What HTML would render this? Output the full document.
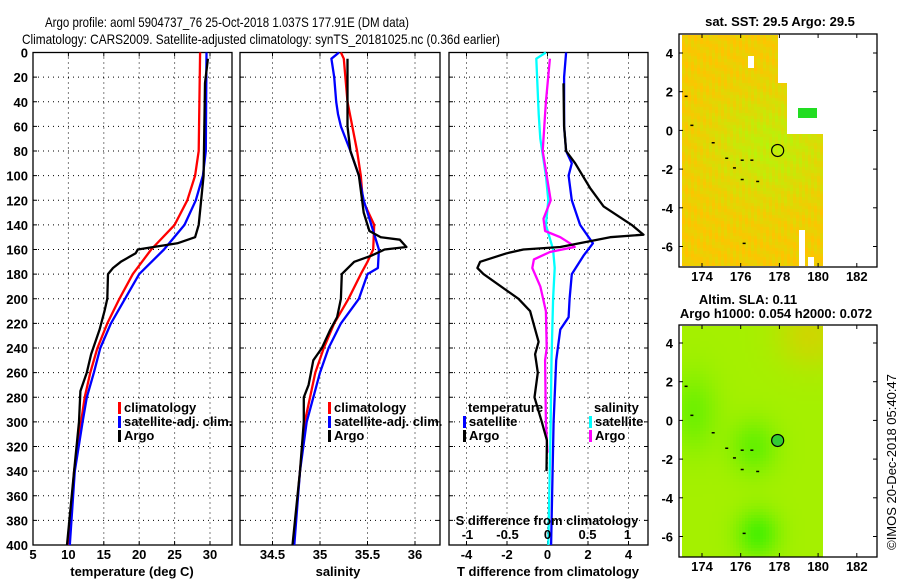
<!DOCTYPE html>
<html><head><meta charset="utf-8"><style>
html,body{margin:0;padding:0;background:#fff;}
svg{display:block;font-family:"Liberation Sans",Arial,sans-serif;}
.tk{font-size:13px;font-weight:bold;}
</style></head><body>
<svg id="fig" width="900" height="580" viewBox="0 0 900 580" xmlns="http://www.w3.org/2000/svg">
<text x="45" y="27" font-size="14" textLength="364" lengthAdjust="spacingAndGlyphs">Argo profile: aoml 5904737_76 25-Oct-2018 1.037S 177.91E (DM data)</text>
<text x="22" y="44" font-size="14" textLength="478" lengthAdjust="spacingAndGlyphs">Climatology: CARS2009. Satellite-adjusted climatology: synTS_20181025.nc (0.36d earlier)</text>
<g id="p1"></g><g id="p2"></g><g id="p3"></g><g id="m1"></g><g id="m2"></g>
<text x="780" y="26" font-size="13" font-weight="bold" text-anchor="middle">sat. SST: 29.5 Argo: 29.5</text>
<text x="748" y="304" font-size="13" font-weight="bold" text-anchor="middle">Altim. SLA: 0.11</text>
<text x="776" y="318" font-size="13" font-weight="bold" text-anchor="middle">Argo h1000: 0.054 h2000: 0.072</text>
<text transform="translate(896,462) rotate(-90)" font-size="13" text-anchor="middle">©IMOS 20-Dec-2018 05:40:47</text>
</svg>
<script>
const NS="http://www.w3.org/2000/svg";
// ---- data ----
const depthTicks=[0,20,40,60,80,100,120,140,160,180,200,220,240,260,280,300,320,340,360,380,400];
const tempTicks=[5,10,15,20,25,30];
const salTicks=[34.5,35,35.5,36];
const tdiffTicks=[-4,-2,0,2,4];
const sdiffTicks=[-1,-0.5,0,0.5,1];
const sdiffTickLabels=["-1","-0.5","0","0.5","1"];
// temperature profiles
const tClimDepth=[0,80,100,120,140,160,180,200,220,240,260,280,300,340,400];
const tClim=[28.6,28.4,27.9,26.8,25.0,21.7,19.1,17.2,15.5,14.1,13.1,12.3,11.8,10.8,10.0];
const tSatDepth=[0,80,100,120,140,160,180,200,220,240,260,280,300,340,400];
const tSat=[29.5,29.4,29.0,28.0,26.4,23.5,20.0,18.0,16.0,14.5,13.6,12.6,12.0,10.9,10.2];
const tArgoDepth=[5,25,100,140,150,155,160,163,170,175,180,200,210,225,245,260,275,300,340,400];
const tArgo=[29.7,29.3,29.1,28.4,27.9,25.4,19.8,19.5,17.4,16.3,15.6,15.5,15.1,14.4,13.2,12.6,11.7,11.5,10.8,9.8];
// salinity profiles
const sClimDepth=[0,5,40,60,80,100,120,140,160,170,180,200,220,240,260,300,340,400];
const sClim=[35.22,35.25,35.29,35.34,35.39,35.43,35.45,35.57,35.56,35.50,35.43,35.30,35.15,35.04,34.95,34.84,34.79,34.72];
const sSatDepth=[0,5,20,40,50,60,80,100,120,140,160,175,180,200,220,240,260,300,340,400];
const sSat=[35.20,35.12,35.15,35.17,35.19,35.22,35.32,35.41,35.46,35.54,35.62,35.61,35.50,35.41,35.22,35.09,35.00,34.86,34.79,34.73];
const sArgoDepth=[5,60,80,100,130,145,150,152,158,160,165,170,180,200,215,225,240,250,270,280,300,340,400];
const sArgo=[35.29,35.29,35.32,35.41,35.46,35.52,35.64,35.84,35.91,35.68,35.54,35.36,35.23,35.22,35.18,35.11,35.02,34.93,34.88,34.83,34.83,34.79,34.71];
// differences from climatology
const dTSatDepth=[0,20,60,80,90,100,120,140,155,165,180,200,215,225,250,300,400];
const dTSat=[0.92,0.82,0.82,0.92,1.2,1.04,1.2,1.61,2.24,1.78,1.2,1.09,1.04,0.63,0.43,0.3,0.18];
const dTArgoDepth=[25,60,80,90,110,125,140,148,150,158,160,163,170,175,180,200,210,220,235,245,260,280,300,315,340];
const dTArgo=[0.79,0.82,0.92,1.37,2.1,2.77,4.16,4.74,3.09,0.63,-1.19,-2.0,-3.33,-3.46,-3.16,-1.43,-0.86,-0.69,-0.44,-0.61,-0.48,-0.64,-0.28,-0.03,-0.05];
const dSSatDepth=[0,5,50,70,100,120,140,160,175,200,250,300,400];
const dSSat=[-0.02,-0.14,-0.11,-0.09,-0.02,0.01,-0.02,0.07,0.09,0.07,0.05,0.04,0.01];
const dSArgoDepth=[5,40,80,100,120,135,145,150,155,158,162,168,175,190,210,240,250,300,325];
const dSArgo=[0.03,-0.02,-0.06,-0.01,0.04,-0.05,-0.03,0.16,0.28,0.34,0.03,-0.17,-0.19,-0.09,-0.02,-0.01,-0.03,-0.02,0.0];

const TOP=52.5,BOT=545;
const yD=d=>TOP+(d/400)*(BOT-TOP);
function el(tag,attrs,parent,text){const e=document.createElementNS(NS,tag);for(const k in attrs)e.setAttribute(k,attrs[k]);if(text!==undefined)e.textContent=text;parent.appendChild(e);return e;}

function frame(g,x0,x1,xTicks,xScale,xLabels,yLabels,name){
  depthTicks.forEach(d=>{if(d>0&&d<400){const l=el('line',{x1:x0,x2:x1,y1:yD(d),y2:yD(d),stroke:'#000','stroke-width':1,'stroke-dasharray':'1,4'},g);}
    el('line',{x1:x0,x2:x0+4,y1:yD(d),y2:yD(d),stroke:'#000'},g);el('line',{x1:x1-4,x2:x1,y1:yD(d),y2:yD(d),stroke:'#000'},g);
    if(yLabels){const t=el('text',{x:28,y:yD(d)+5,'text-anchor':'end',class:'tk'},g,String(d));}
  });
  xTicks.forEach((v,i)=>{const x=xScale(v);
    const l=el('line',{x1:x,x2:x,y1:TOP,y2:BOT,stroke:'#000','stroke-dasharray':'1,4'},g);
    el('line',{x1:x,x2:x,y1:TOP,y2:TOP+4,stroke:'#000'},g);el('line',{x1:x,x2:x,y1:BOT-4,y2:BOT,stroke:'#000'},g);
    const t=el('text',{x:x,y:559,'text-anchor':'middle',class:'tk'},g,xLabels[i]);
  });
  const r=el('rect',{x:x0,y:TOP,width:x1-x0,height:BOT-TOP,fill:'none',stroke:'#000','stroke-width':1.3},g);
  
}
function line(g,xs,ds,xScale,color,name,w){
  const pts=xs.map((v,i)=>xScale(v).toFixed(1)+','+yD(ds[i]).toFixed(1)).join(' ');
  const p=el('polyline',{points:pts,fill:'none',stroke:color,'stroke-width':w||2.3,'stroke-linejoin':'round'},g);
  
}
function legend(g,x,y,items){items.forEach((it,i)=>{
  const b=el('rect',{x:x,y:y+i*14-10,width:3,height:12,fill:it[1]},g);
  if(it[0]){const t=el('text',{x:x+6,y:y+i*14,'font-size':13,'font-weight':'bold'},g,it[0]);}
});}

const g1=document.getElementById('p1');
const xT=v=>33+(v-5)*7.08;
frame(g1,33,232,tempTicks,xT,tempTicks.map(String),true,'temperature');
line(g1,tClim,tClimDepth,xT,'#f00','temp-climatology-line');
line(g1,tSat,tSatDepth,xT,'#00f','temp-satellite-line');
line(g1,tArgo,tArgoDepth,xT,'#000','temp-argo-line');
legend(g1,118,412,[['climatology','#f00'],['satellite-adj. clim.','#00f'],['Argo','#000']]);
let t=el('text',{x:132,y:576,'text-anchor':'middle','font-size':13,'font-weight':'bold'},g1,'temperature (deg C)');

const g2=document.getElementById('p2');
const xS=v=>320+(v-35)*95;
frame(g2,240,440,salTicks,xS,salTicks.map(String),false,'salinity');
line(g2,sClim,sClimDepth,xS,'#f00','sal-climatology-line');
line(g2,sSat,sSatDepth,xS,'#00f','sal-satellite-line');
line(g2,sArgo,sArgoDepth,xS,'#000','sal-argo-line');
legend(g2,328,412,[['climatology','#f00'],['satellite-adj. clim.','#00f'],['Argo','#000']]);
t=el('text',{x:338,y:576,'text-anchor':'middle','font-size':13,'font-weight':'bold'},g2,'salinity');

const g3=document.getElementById('p3');
const xDT=v=>547.5+v*20.25;
const xDS=v=>547.5+v*80;
frame(g3,449,648,tdiffTicks,xDT,tdiffTicks.map(String),false,'tdiff');
line(g3,dSSat,dSSatDepth,xDS,'#0ff','sdiff-satellite-line');
line(g3,dSArgo,dSArgoDepth,xDS,'#f0f','sdiff-argo-line');
line(g3,dTSat,dTSatDepth,xDT,'#00f','tdiff-satellite-line');
line(g3,dTArgo,dTArgoDepth,xDT,'#000','tdiff-argo-line');
sdiffTicks.forEach((v,i)=>{const tt=el('text',{x:xDS(v),y:539,'text-anchor':'middle',class:'tk'},g3,sdiffTickLabels[i]);});
t=el('text',{x:547,y:525,'text-anchor':'middle','font-size':13,'font-weight':'bold'},g3,'S difference from climatology');
t=el('text',{x:548,y:576,'text-anchor':'middle','font-size':13,'font-weight':'bold'},g3,'T difference from climatology');
t=el('text',{x:468,y:412,'font-size':13,'font-weight':'bold'},g3,'temperature');
t=el('text',{x:594,y:412,'font-size':13,'font-weight':'bold'},g3,'salinity');
legend(g3,463,426,[['satellite','#00f'],['Argo','#000']]);
legend(g3,589,426,[['satellite','#0ff'],['Argo','#f0f']]);

function map(g,top,bot,lat4y,kind){
  const x0=679,x1=877;
  const px=lon=>702+(lon-174)*19.35;
  const py=lat=>lat4y+(4-lat)*19.35;
  const cell=3;
  const cg=el('g',{'shape-rendering':'crispEdges'},g);
  for(let y=top+1;y<bot-1;y+=cell){for(let x=682;x<821;x+=cell){
    const lon=174+(x-702)/19.35, lat=4-(y-lat4y)/19.35;
    let ok=true;
    if(kind==1){ if(y<82&&x>775)ok=false; if(y>=82&&y<132&&x>786)ok=false; if(y>229&&x>798&&x<805)ok=false; if(y>256&&x>805&&x<812)ok=false;
      if(y>55&&y<66&&x>745&&x<752)ok=false;}
    if(!ok)continue;
    let c;
    if(kind==1){
      const g0=Math.exp(-((lon-177.5)**2/10+(lat+0.8)**2/8));
      const n=Math.sin(x*1.7+y*0.9)*Math.cos(x*0.6-y*1.3);
      const gr=Math.min(1,Math.max(0,0.15+g0*0.65+n*0.2));
      c='rgb('+Math.round(255-gr*75)+','+Math.round(195+gr*50)+','+Math.round(gr*10)+')';
    }else{
      const a=Math.exp(-((lon-176.8)**2/1.2+(lat+5.8)**2/1.5))+Math.exp(-((lon-176.6)**2/1.5+(lat+1.3)**2/2))*0.7+Math.exp(-((lon-173.5)**2/1.5+(lat-0.5)**2/4))*0.6;
      const o=Math.exp(-((lon-179.5)**2/3+(lat-4.5)**2/3));
      const gr=Math.min(1,0.3+a*0.6);
      c='rgb('+Math.round(210-gr*150+o*40)+','+Math.round(240-o*25)+',0)';
    }
    el('rect',{x:x,y:Math.round(y),width:cell,height:cell,fill:c},cg);
  }}
  if(kind==1){const p=el('rect',{x:798,y:108,width:19,height:10,fill:'#2d2'},g);}
  [174,176,178,180,182].forEach(v=>{const x=px(v);el('line',{x1:x,x2:x,y1:top,y2:top+4,stroke:'#000'},g);el('line',{x1:x,x2:x,y1:bot-4,y2:bot,stroke:'#000'},g);
    const tt=el('text',{x:x,y:bot+14,'text-anchor':'middle',class:'tk'},g,String(v));});
  [4,2,0,-2,-4,-6].forEach(v=>{const y=py(v);el('line',{x1:x0,x2:x0+4,y1:y,y2:y,stroke:'#000'},g);el('line',{x1:x1-4,x2:x1,y1:y,y2:y,stroke:'#000'},g);
    const tt=el('text',{x:673,y:y+5,'text-anchor':'end',class:'tk'},g,String(v));});
  const r=el('rect',{x:x0,y:top,width:x1-x0,height:bot-top,fill:'none',stroke:'#000','stroke-width':1.3},g);
  const c=el('circle',{cx:px(177.91),cy:py(-1.037),r:6,fill:kind==1?'none':'#3c3',stroke:'#000','stroke-width':1.2},g);
  
  [[173.4,0.3],[174.5,-0.6],[175.2,-1.4],[176,-1.5],[176.5,-1.5],[175.6,-1.9],[176,-2.5],[176.8,-2.6],[173.1,1.8],[176.1,-5.8]].forEach(q=>{el('rect',{x:px(q[0]),y:py(q[1]),width:3,height:1.5,fill:'#000'},g);});
}
const m1=document.getElementById('m1');
map(m1,34,267,53,1);
const m2=document.getElementById('m2');
map(m2,325,557,343,2);
</script>
</body></html>
